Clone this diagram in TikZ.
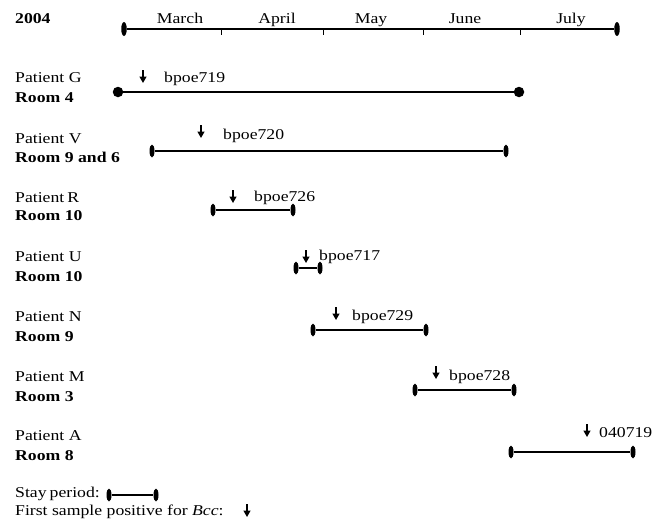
\documentclass[tikz,border=0pt]{standalone}
\usepackage{fontspec}
\setmainfont{Liberation Serif}[FakeStretch=1.18]
\usetikzlibrary{shapes.geometric,arrows.meta}
\begin{document}
\begin{tikzpicture}[x=1pt,y=-1pt,
  endmark/.style={ellipse,fill=black,inner sep=0pt,minimum width=5pt,minimum height=13pt},
  bigmark/.style={ellipse,fill=black,inner sep=0pt,minimum width=5.5pt,minimum height=14pt},
  dotmark/.style={circle,fill=black,inner sep=0pt,minimum size=10.5pt},
  bar/.style={line width=1.4pt},
  sample/.style={-{Triangle[length=6.5pt,width=7pt]},line width=1.4pt},
  txt/.style={font=\fontsize{15}{17}\selectfont,inner sep=0pt,anchor=base west},
  room/.style={txt,font=\fontsize{15}{17}\selectfont\bfseries},
  month/.style={font=\fontsize{15}{17}\selectfont,inner sep=0pt,anchor=base},
  ticked/.style={line width=0.9pt}]
\useasboundingbox (0,0) rectangle (669,525);

% time axis with month ticks
\node[room] (year) at (15,23) {2004};
\node[bigmark] (ta) at (124,29) {};
\node[bigmark] (tb) at (617,29) {};
\draw[bar] (ta) -- (tb);
\foreach \x/\n in {221/t1,323/t2,423/t3,520/t4}{
  \coordinate (\n) at (\x,29);
  \draw[ticked] (\n) -- ++(0,6);
}
\node[month] (mar) at (180,23) {March};
\node[month] (apr) at (277,23) {April};
\node[month] (may) at (371,23) {May};
\node[month] (jun) at (465,23) {June};
\node[month] (jul) at (571,23) {July};

% Patient G
\node[txt] (pg) at (15,82) {Patient G};
\node[room] (rg) at (15,102) {Room 4};
\node[dotmark] (ga) at (118,92) {};
\node[dotmark] (gb) at (519,92) {};
\draw[bar] (ga) -- (gb);
\coordinate (gs) at (143,70);
\coordinate (ge) at (143,83);
\draw[sample] (gs) -- (ge);
\node[txt] (gl) at (164,82) {bpoe719};

% Patient V
\node[txt] (pv) at (15,143) {Patient V};
\node[room] (rv) at (15,162) {Room 9 and 6};
\node[endmark] (va) at (152,151) {};
\node[endmark] (vb) at (506,151) {};
\draw[bar] (va) -- (vb);
\coordinate (vs) at (201,125);
\coordinate (ve) at (201,138);
\draw[sample] (vs) -- (ve);
\node[txt] (vl) at (223,139) {bpoe720};

% Patient R
\node[txt] (pr) at (15,202) {Patient\kern3pt R};
\node[room] (rr) at (15,220) {Room 10};
\node[endmark] (ra) at (213,210) {};
\node[endmark] (rb) at (293,210) {};
\draw[bar] (ra) -- (rb);
\coordinate (rs) at (233,190);
\coordinate (re) at (233,203);
\draw[sample] (rs) -- (re);
\node[txt] (rl) at (254,201) {bpoe726};

% Patient U
\node[txt] (pu) at (15,261) {Patient U};
\node[room] (ru) at (15,281) {Room 10};
\node[endmark] (ua) at (296,268) {};
\node[endmark] (ub) at (320,268) {};
\draw[bar] (ua) -- (ub);
\coordinate (us) at (306,250);
\coordinate (ue) at (306,263);
\draw[sample] (us) -- (ue);
\node[txt] (ul) at (319,260) {bpoe717};

% Patient N
\node[txt] (pn) at (15,321) {Patient N};
\node[room] (rn) at (15,341) {Room 9};
\node[endmark] (na) at (313,330) {};
\node[endmark] (nb) at (426,330) {};
\draw[bar] (na) -- (nb);
\coordinate (ns) at (336,307);
\coordinate (ne) at (336,320);
\draw[sample] (ns) -- (ne);
\node[txt] (nl) at (352,320) {bpoe729};

% Patient M
\node[txt] (pm) at (15,381) {Patient M};
\node[room] (rm) at (15,401) {Room 3};
\node[endmark] (ma) at (415,390) {};
\node[endmark] (mb) at (514,390) {};
\draw[bar] (ma) -- (mb);
\coordinate (ms) at (436,366);
\coordinate (me) at (436,379);
\draw[sample] (ms) -- (me);
\node[txt] (ml) at (449,380) {bpoe728};

% Patient A
\node[txt] (pa) at (15,440) {Patient A};
\node[room] (ra8) at (15,460) {Room 8};
\node[endmark] (aa) at (511,452) {};
\node[endmark] (ab) at (633,452) {};
\draw[bar] (aa) -- (ab);
\coordinate (as) at (587,424);
\coordinate (ae) at (587,437);
\draw[sample] (as) -- (ae);
\node[txt] (al) at (599,437) {040719};

% legend
\node[txt] (ks) at (15,497) {Stay\kern3pt period:};
\node[endmark] (ka) at (109,495) {};
\node[endmark] (kb) at (156,495) {};
\draw[bar] (ka) -- (kb);
\node[txt] (kf) at (15,515) {First sample positive for \textit{Bcc}:};
\coordinate (ks1) at (247,504);
\coordinate (ke1) at (247,517);
\draw[sample] (ks1) -- (ke1);
\end{tikzpicture}
\end{document}
